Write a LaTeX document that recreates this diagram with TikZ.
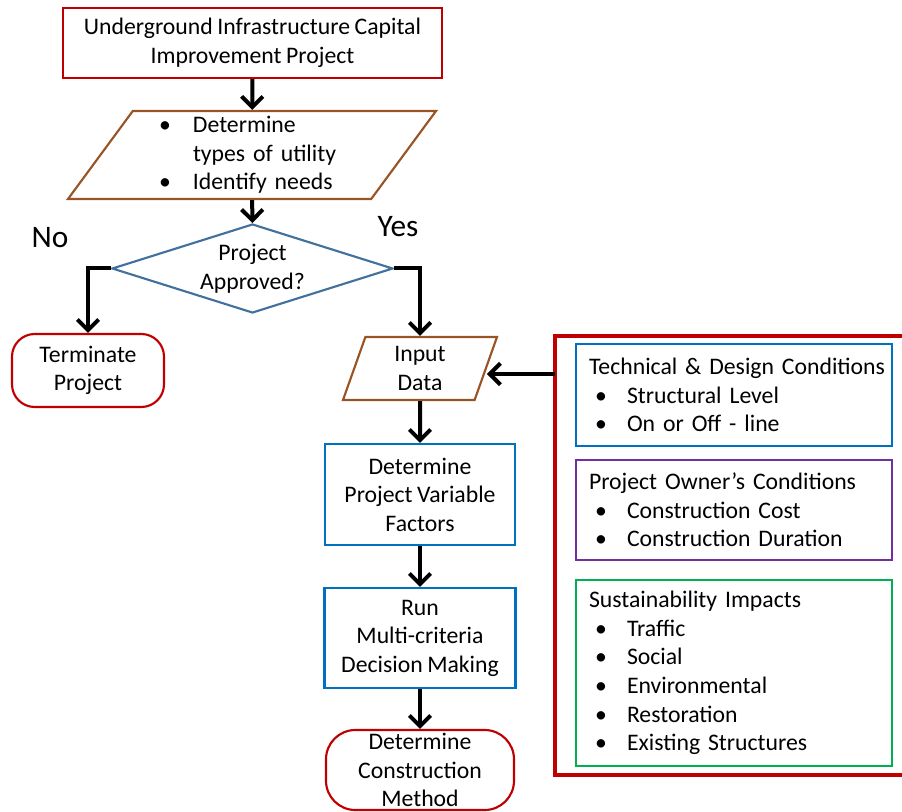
\documentclass[tikz,border=0pt]{standalone}
\usepackage{fontspec}
\setmainfont{Carlito}[WordSpace=0.85]
\usetikzlibrary{shapes.geometric,arrows.meta}
\definecolor{cred}{HTML}{C00000}
\definecolor{cbrown}{HTML}{985424}
\definecolor{cdia}{HTML}{41719C}
\definecolor{cblue}{HTML}{0070C0}
\definecolor{cpurple}{HTML}{7030A0}
\definecolor{cgreen}{HTML}{00B050}
\newcommand\bul{\hspace*{4.5pt}\makebox[24pt][l]{\textbullet}}
\begin{document}
\begin{tikzpicture}[x=0.75pt,y=-0.75pt,
  every node/.style={font=\fontsize{17.8}{21.4}\selectfont},
  box/.style={draw, line width=1.6pt, align=center, inner sep=0pt},
  para/.style={box, trapezium, trapezium stretches body=true},
  sidebox/.style={draw, line width=1.6pt, align=left, text width=217.5pt, inner xsep=9.75pt, inner ysep=0pt, minimum width=237pt},
  arr/.style={line width=3pt, -{Straight Barb[length=8pt,width=16pt]}},
  yn/.style={font=\fontsize{23.5}{27}\selectfont}
]
\useasboundingbox (0,0) rectangle (902,812);

\node[box, draw=cred, minimum width=284.25pt, minimum height=52.5pt] (top) at (252.5,43)
  {Underground Infrastructure Capital\\Improvement Project};

\node[para, draw=cbrown, trapezium left angle=50, trapezium right angle=130,
  minimum width=276pt, minimum height=66pt, text width=139.5pt, align=left] (p1) at (252,155)
  {\makebox[25.5pt][l]{\textbullet}Determine\\\hspace*{25.5pt}types of utility\\\makebox[25.5pt][l]{\textbullet}Identify needs};

\node[box, draw=cdia, diamond, aspect=3.16, minimum width=210.75pt, minimum height=66.75pt] (dia) at (252.5,268.5)
  {Project\\Approved?};

\node[yn] (no) at (50,238) {No};
\node[yn] (yes) at (398,227) {Yes};

\node[box, draw=cred, rounded corners=17pt, minimum width=114pt, minimum height=54.75pt] (term) at (88,370.5)
  {Terminate\\Project};

\node[para, draw=cbrown, trapezium left angle=63, trapezium right angle=117,
  minimum width=115.5pt, minimum height=47.25pt] (inp) at (420,368.5)
  {Input\\Data};

\node[box, draw=cblue, minimum width=142.5pt, minimum height=75.75pt] (det) at (420,494.5)
  {Determine\\Project Variable\\Factors};

\node[box, draw=cblue, minimum width=143.25pt, minimum height=75pt] (run) at (420,638)
  {Run\\Multi-criteria\\Decision Making};

\node[box, draw=cred, rounded corners=22pt, minimum width=141pt, minimum height=60pt] (meth) at (420,770)
  {Determine\\Construction\\Method};

\node[draw=cred, line width=2.4pt, minimum width=266.25pt, minimum height=329.25pt, inner sep=0pt] (big) at (732.5,555.5) {};

\node[sidebox, draw=cblue, minimum height=76.5pt] (tech) at (734,395)
  {\mbox{Technical \& Design Conditions}\\\bul Structural Level\\\bul On or Off - line};
\node[sidebox, draw=cpurple, minimum height=75pt] (own) at (734,510)
  {Project Owner’s Conditions\\\bul Construction Cost\\\bul Construction Duration};
\node[sidebox, draw=cgreen, minimum height=139.5pt] (sus) at (734,673)
  {Sustainability Impacts\\\bul Traffic\\\bul Social\\\bul Environmental\\\bul Restoration\\\bul Existing Structures};

\draw[arr] (top) -- (p1);
\draw[arr] (p1) -- (dia);
\draw[arr] (dia.west) -| (term.north);
\draw[arr] (dia.east) -| (inp.north);
\draw[arr] (inp) -- (det);
\draw[arr] (det) -- (run);
\draw[arr] (run) -- (meth);
\coordinate (bin) at (555,374);
\draw[arr] (bin) -- (bin -| inp.east);
\end{tikzpicture}
\end{document}
